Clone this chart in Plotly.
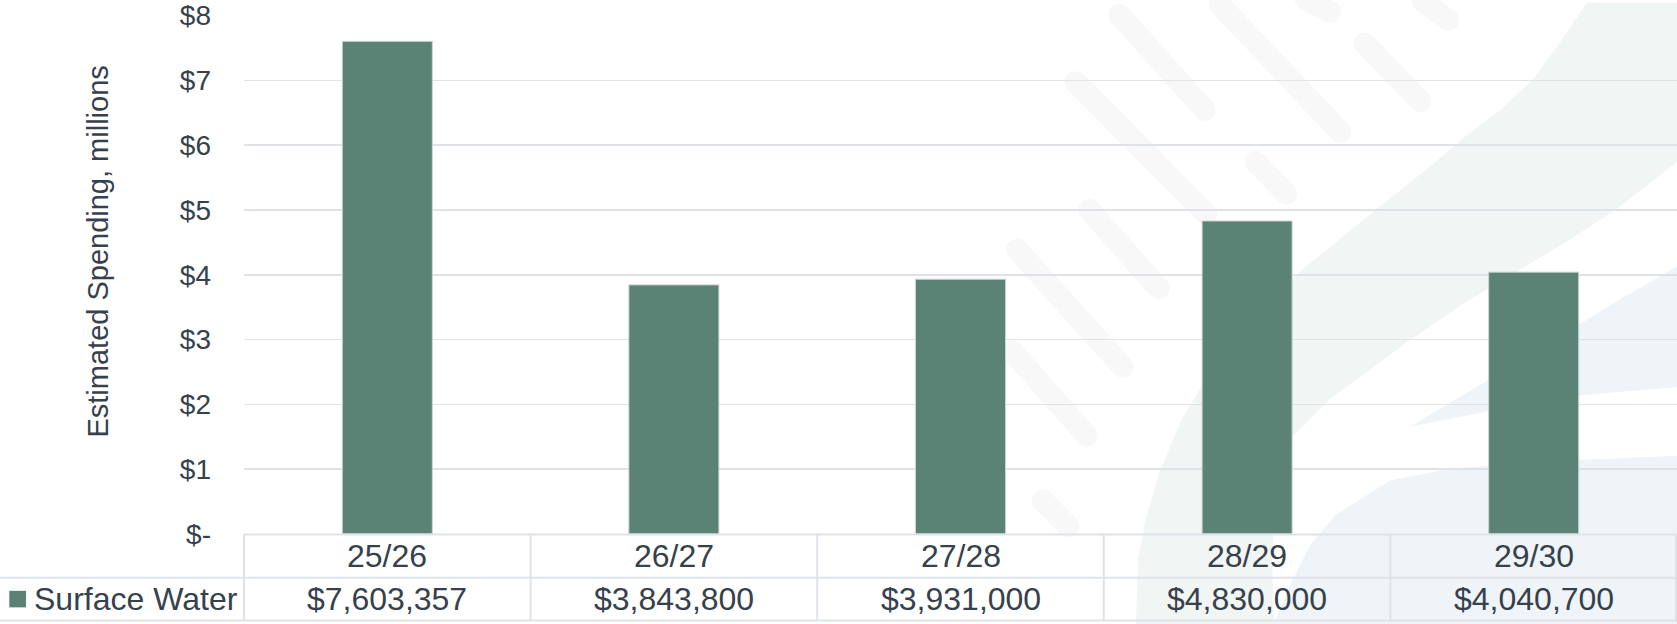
import math
import plotly.graph_objects as go

# ---------------- data ----------------
categories = ["25/26", "26/27", "27/28", "28/29", "29/30"]
surface_water = [7603357, 3843800, 3931000, 4830000, 4040700]
series_name = "Surface Water"
y_tick_vals = [0, 1, 2, 3, 4, 5, 6, 7, 8]
y_tick_text = ["$-", "$1", "$2", "$3", "$4", "$5", "$6", "$7", "$8"]
y_title = "Estimated Spending, millions"

# ---------------- style ----------------
W, H = 1677, 624          # target picture size
HF = 640                  # figure height (capture is squeezed from 640 to 624)
S = HF / H
Y_MAX = 8.01
PLOT_LEFT = 244
PLOT_BOTTOM = 533.5
PX_PER_UNIT = 65.05
PLOT_TOP = PLOT_BOTTOM - Y_MAX * PX_PER_UNIT
M_T, M_B = PLOT_TOP * S, 0
BAR_COLOR = "#5a8275"
TEXT_COLOR = "#37414b"
GRID_COLOR = "#dfe3e8"
FONT = "Liberation Sans, Arial, sans-serif"


def px_x(X):
    return X / W


def px_y(Y):
    return (HF - Y * S) / (HF - M_T - M_B)


x_dom = [px_x(PLOT_LEFT), 1.0]
y_dom = [px_y(PLOT_BOTTOM), 1.0]

fig = go.Figure()
fig.add_trace(go.Bar(
    x=categories,
    y=[v / 1e6 for v in surface_water],
    name=series_name,
    marker=dict(color=BAR_COLOR, line=dict(color="#c9d3cf", width=1)),
    width=0.314,
    showlegend=False,
    hoverinfo="skip",
))

shapes = []


# ---- faint background decoration (watermark) ----
def P(x, y):
    return f"{px_x(x):.5f},{px_y(y):.5f}"


def poly(points, color):
    d = "M " + " L ".join(P(x, y) for x, y in points) + " Z"
    return dict(type="path", path=d, xref="paper", yref="paper", layer="below",
                fillcolor=color, line=dict(width=0))


def capsule(x1, y1, x2, y2, w, color):
    r = w / 2
    dx, dy = x2 - x1, y2 - y1
    L = math.hypot(dx, dy)
    ux, uy = dx / L, dy / L
    ax, ay = x1 + ux * r, y1 + uy * r
    bx, by = x2 - ux * r, y2 - uy * r
    nx, ny = -uy, ux
    k = 0.5523 * r
    d = (f"M {P(ax + nx*r, ay + ny*r)} L {P(bx + nx*r, by + ny*r)} "
         f"C {P(bx + nx*r + ux*k, by + ny*r + uy*k)} {P(bx + ux*r + nx*k, by + uy*r + ny*k)} {P(bx + ux*r, by + uy*r)} "
         f"C {P(bx + ux*r - nx*k, by + uy*r - ny*k)} {P(bx - nx*r + ux*k, by - ny*r + uy*k)} {P(bx - nx*r, by - ny*r)} "
         f"L {P(ax - nx*r, ay - ny*r)} "
         f"C {P(ax - nx*r - ux*k, ay - ny*r - uy*k)} {P(ax - ux*r - nx*k, ay - uy*r - ny*k)} {P(ax - ux*r, ay - uy*r)} "
         f"C {P(ax - ux*r + nx*k, ay - uy*r + ny*k)} {P(ax + nx*r - ux*k, ay + ny*r - uy*k)} {P(ax + nx*r, ay + ny*r)} Z")
    return dict(type="path", path=d, xref="paper", yref="paper", layer="below",
                fillcolor=color, line=dict(width=0))


band = [(1136, 624), (1138, 560), (1146, 518), (1160, 470), (1182, 418), (1208, 375), (1238, 339),
        (1300, 270), (1377, 207), (1427, 167), (1467, 133), (1500, 108), (1533, 77), (1560, 40),
        (1587, 0), (1677, 0), (1677, 160), (1617, 207), (1567, 240), (1500, 280), (1467, 300),
        (1410, 339), (1330, 398), (1290, 438), (1276, 500), (1272, 560), (1274, 624)]
shapes.append(poly(band, "#f1f5f3"))
blue1 = [(1274, 624), (1290, 585), (1310, 545), (1335, 515), (1390, 480), (1450, 468),
         (1560, 460), (1677, 455), (1677, 624)]
shapes.append(poly(blue1, "#eff4f8"))
blue2 = [(1410, 426), (1500, 372), (1617, 300), (1677, 265), (1677, 386), (1560, 396)]
shapes.append(poly(blue2, "#eff4f8"))

strokes = [
    (1112, 4, 1212, 116), (1212, -6, 1348, 138), (1296, -8, 1340, 14), (1414, -8, 1457, 24),
    (1357, 33, 1428, 107), (1068, 72, 1214, 220), (1248, 152, 1294, 200), (1082, 200, 1166, 295),
    (1010, 240, 1130, 374), (1005, 342, 1094, 443), (1035, 492, 1076, 534),
]
for s in strokes:
    shapes.append(capsule(*s, 22, "#f8f8f8"))

# ---- data table lines ----
n = len(categories)
col_w = (W - PLOT_LEFT) / n
ROW1_TOP, ROW2_TOP, ROW2_BOT = 534, 577.5, 620.5
line_style = dict(color=GRID_COLOR, width=2)
shapes.append(dict(type="line", xref="paper", yref="paper", x0=px_x(PLOT_LEFT), x1=1,
                   y0=px_y(ROW1_TOP), y1=px_y(ROW1_TOP), line=line_style))
for Yy in (ROW2_TOP, ROW2_BOT):
    shapes.append(dict(type="line", xref="paper", yref="paper", x0=0, x1=1,
                       y0=px_y(Yy), y1=px_y(Yy), line=line_style))
for i in range(n + 1):
    X = min(PLOT_LEFT + i * col_w, W - 1)
    shapes.append(dict(type="line", xref="paper", yref="paper", x0=px_x(X), x1=px_x(X),
                       y0=px_y(ROW1_TOP), y1=px_y(ROW2_BOT), line=line_style))
# legend key
shapes.append(dict(type="rect", xref="paper", yref="paper", x0=px_x(9.3), x1=px_x(26),
                   y0=px_y(607.3), y1=px_y(590.7), fillcolor=BAR_COLOR, line=dict(width=0)))

annotations = []
for cat, val in zip(categories, surface_water):
    annotations.append(dict(x=cat, xref="x", y=px_y((ROW1_TOP + ROW2_TOP) / 2), yref="paper",
                            text=cat, showarrow=False, xanchor="center", yanchor="middle",
                            font=dict(size=32, color=TEXT_COLOR, family=FONT)))
    annotations.append(dict(x=cat, xref="x", y=px_y((ROW2_TOP + ROW2_BOT) / 2), yref="paper",
                            text=f"${val:,.0f}", showarrow=False, xanchor="center", yanchor="middle",
                            font=dict(size=32, color=TEXT_COLOR, family=FONT)))
annotations.append(dict(x=px_x(32), xref="paper", y=px_y((ROW2_TOP + ROW2_BOT) / 2), yref="paper",
                        text=series_name, showarrow=False, xanchor="left", yanchor="middle",
                        font=dict(size=32, color=TEXT_COLOR, family=FONT)))
annotations.append(dict(x=px_x(98), xref="paper", y=px_y(250), yref="paper",
                        text=y_title, textangle=-90, showarrow=False,
                        xanchor="center", yanchor="middle",
                        font=dict(size=29, color=TEXT_COLOR, family=FONT)))

fig.update_layout(
    width=W, height=HF,
    margin=dict(l=0, r=0, t=M_T, b=M_B, pad=0),
    paper_bgcolor="white",
    plot_bgcolor="rgba(0,0,0,0)",
    font=dict(family=FONT, color=TEXT_COLOR),
    hovermode=False,
    xaxis=dict(domain=x_dom, type="category", categoryorder="array", categoryarray=categories,
               range=[-0.5, n - 0.5], showgrid=False, showline=False, zeroline=False,
               showticklabels=False, ticks="", fixedrange=True),
    yaxis=dict(domain=y_dom, range=[0, Y_MAX], tickvals=y_tick_vals, ticktext=y_tick_text,
               showgrid=True, gridcolor=GRID_COLOR, gridwidth=1.6, zeroline=False,
               showline=False, ticks="", ticklabelstandoff=32, ticklabeloverflow="allow",
               tickfont=dict(size=28, color=TEXT_COLOR, family=FONT), fixedrange=True),
    shapes=shapes,
    annotations=annotations,
    bargap=0.686,
)

fig.write_html(
    "out.html",
    config={"displayModeBar": False, "staticPlot": True},
    post_script="document.body.style.margin='0';",
)
